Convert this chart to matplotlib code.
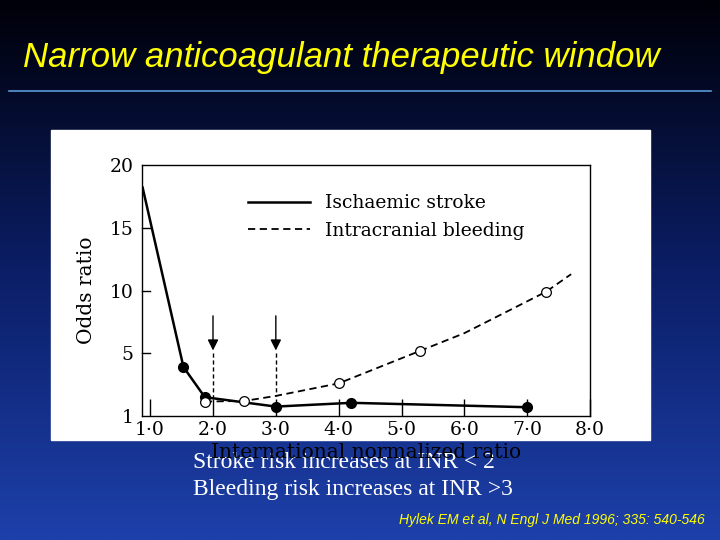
import numpy as np
import matplotlib
matplotlib.use("Agg")
import matplotlib.pyplot as plt
from matplotlib.patches import Rectangle
from matplotlib.colors import LinearSegmentedColormap

stroke_x = [0.88, 1.53, 1.87, 3.0, 4.2, 7.0]
stroke_y = [18.2, 3.9, 1.5, 0.75, 1.05, 0.7]
stroke_mark_x = [1.53, 1.87, 3.0, 4.2, 7.0]
stroke_mark_y = [3.9, 1.5, 0.75, 1.05, 0.7]
bleed_x = [1.87, 2.5, 3.0, 4.0, 5.3, 6.0, 7.3, 7.7]
bleed_y = [1.15, 1.2, 1.6, 2.6, 5.2, 6.6, 9.9, 11.3]
bleed_mark_x = [1.87, 2.5, 4.0, 5.3, 7.3]
bleed_mark_y = [1.15, 1.2, 2.6, 5.2, 9.9]
arrow_x = [2.0, 3.0]
xticks = [1, 2, 3, 4, 5, 6, 7, 8]
xticklabels = ["1·0", "2·0", "3·0", "4·0", "5·0", "6·0", "7·0", "8·0"]
yticks = [0, 5, 10, 15, 20]
yticklabels = ["1", "5", "10", "15", "20"]

fig = plt.figure(figsize=(7.2, 5.4), dpi=100)
bg = fig.add_axes([0, 0, 1, 1])
grad = np.linspace(0, 1, 256)[:, None]
cm = LinearSegmentedColormap.from_list("g", ["#000008", "#0b1e66", "#1d40aa"])
bg.imshow(grad, aspect="auto", cmap=cm, extent=[0, 1, 0, 1], origin="upper")
bg.set_xlim(0, 1); bg.set_ylim(0, 1); bg.axis("off")
bg.text(0.032, 0.893, "Narrow anticoagulant therapeutic window", color="#ffff00",
        fontsize=25, style="italic", family="Liberation Sans", va="center")
bg.plot([0.012, 0.988], [0.831, 0.831], color="#5a9ad8", lw=1.2)
bg.add_patch(Rectangle((51/720, 1-440/540), 599/720, 310/540, color="white"))
bg.text(193/720, 1-463/540, "Stroke risk increases at INR < 2", color="white",
        fontsize=17, family="Liberation Serif", va="center")
bg.text(193/720, 1-489/540, "Bleeding risk increases at INR >3", color="white",
        fontsize=17, family="Liberation Serif", va="center")
bg.text(705/720, 1-520/540, "Hylek EM et al, N Engl J Med 1996; 335: 540-546", color="#ffff00",
        fontsize=10, style="italic", family="Liberation Sans", va="center", ha="right")

ax = fig.add_axes([142/720, 1-416/540, 448/720, 251/540])
ax.set_xlim(0.87, 8.0); ax.set_ylim(0, 20)
ax.plot(stroke_x, stroke_y, color="black", lw=1.8, label="Ischaemic stroke")
ax.plot(stroke_mark_x, stroke_mark_y, "o", color="black", ms=7)
ax.plot(bleed_x, bleed_y, color="black", lw=1.3, ls=(0, (4, 2.5)), label="Intracranial bleeding")
ax.plot(bleed_mark_x, bleed_mark_y, "o", mfc="white", mec="black", ms=7, mew=0.9)
for i, xa in enumerate(arrow_x):
    ax.annotate("", xy=(xa, 5.0), xytext=(xa, 8.2),
                arrowprops=dict(arrowstyle="-|>", color="black", lw=1.0, mutation_scale=16))
    ax.plot([xa, xa], [5.0, stroke_y[2] if i == 0 else 1.6], color="black", lw=1.0, ls=(0, (3, 2)))
ax.set_xticks(xticks); ax.set_xticklabels(xticklabels, family="DejaVu Serif", fontsize=13.5)
ax.set_yticks(yticks); ax.set_yticklabels(yticklabels, family="DejaVu Serif", fontsize=13.5)
ax.tick_params(axis="x", direction="in", length=12, width=1)
ax.tick_params(axis="y", direction="out", length=0, pad=6)
for yt in yticks[1:4]:
    ax.plot([0.87, 1.0], [yt, yt], color="black", lw=1, clip_on=False)
ax.set_xlabel("International normalized ratio", family="DejaVu Serif", fontsize=14.5, labelpad=3)
ax.set_ylabel("Odds ratio", family="DejaVu Serif", fontsize=14.5, labelpad=10)
ax.legend(loc="upper left", bbox_to_anchor=(0.2, 0.95), frameon=False,
          prop={"family": "DejaVu Serif", "size": 13.5}, handlelength=3.3)
for sp in ax.spines.values():
    sp.set_linewidth(1)
fig.savefig("out.png", dpi=100)
